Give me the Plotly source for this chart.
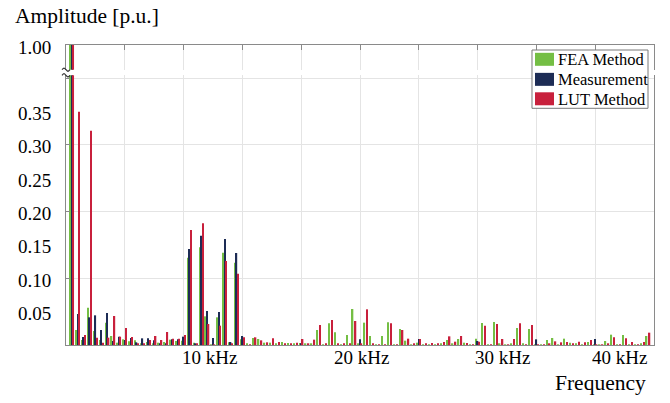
import plotly.graph_objects as go

# Harmonic orders (fundamental = 1) and normalised amplitudes [p.u.]
orders = list(range(1, 100))

fea = [1.0, 0.0225, 0.0075, 0.056, 0.021, 0.0075, 0.0335, 0.0135, 0.0035, 0.0085,
       0.0055, 0.007, 0.002, 0.0045, 0.002, 0.0035, 0.0045, 0.008, 0.006, 0.0065,
       0.131, 0.0035, 0.1465, 0.043, 0.001, 0.0415, 0.1385, 0.004, 0.1235, 0.0085,
       0.0025, 0.0105, 0.009, 0.0035, 0.0035, 0.002, 0.0045, 0.003, 0.0025, 0.003,
       0.0015, 0.0025, 0.0225, 0.001, 0.0325, 0.019, 0.001, 0.015, 0.054, 0.002,
       0.0335, 0.0135, 0.001, 0.0135, 0.034, 0.001, 0.024, 0.0065, 0.001, 0.0035,
       0.001, 0.0005, 0.001, 0.002, 0.0075, 0.002, 0.009, 0.0035, 0.0005, 0.0095,
       0.033, 0.0005, 0.0345, 0.0015, 0.0005, 0.0015, 0.0255, 0.0015, 0.024, 0.001,
       0.0005, 0.0075, 0.0105, 0.001, 0.0095, 0.0035, 0.0025, 0.001, 0.0045, 0.001,
       0.0005, 0.006, 0.0155, 0.0005, 0.015, 0.001, 0.0005, 0.002, 0.0135]

measurement = [1.0, 0.0465, 0.012, 0.0415, 0.0445, 0.0225, 0.048, 0.006, 0.0125, 0.0075,
               0.0105, 0.004, 0.01, 0.01, 0.007, 0.002, 0.002, 0.0085, 0.0085, 0.0125,
               0.144, 0.0015, 0.164, 0.051, 0.0105, 0.0495, 0.159, 0.0045, 0.138, 0.0135,
               0, 0, 0, 0, 0, 0, 0, 0, 0, 0.002,
               0, 0, 0, 0, 0, 0, 0, 0, 0, 0.0085,
               0, 0, 0, 0, 0, 0, 0, 0, 0, 0.009,
               0, 0, 0, 0, 0, 0, 0, 0, 0, 0.006,
               0, 0, 0, 0, 0, 0, 0, 0, 0, 0.0085,
               0, 0, 0, 0, 0, 0, 0, 0, 0, 0.009,
               0, 0, 0, 0, 0, 0, 0, 0, 0]

lut = [1.0, 0.35, 0.015, 0.3215, 0.011, 0.0035, 0.011, 0.0435, 0.0125, 0.0255,
       0.012, 0.0025, 0.002, 0.0075, 0.0135, 0.0075, 0.0195, 0.0095, 0.0095, 0.015,
       0.1725, 0.0025, 0.1825, 0.0315, 0.001, 0.029, 0.126, 0.0015, 0.107, 0.0115,
       0.001, 0.0115, 0.007, 0.004, 0.01, 0.0045, 0.0025, 0.0025, 0.0035, 0.009,
       0.0025, 0.008, 0.03, 0.0025, 0.0375, 0.0025, 0.0015, 0.002, 0.036, 0.0025,
       0.0535, 0.0015, 0.0005, 0.001, 0.0325, 0.0005, 0.0225, 0.0095, 0.0025, 0.009,
       0.0015, 0.003, 0.0025, 0.0045, 0.013, 0.005, 0.0135, 0.003, 0.0005, 0.005,
       0.029, 0.0005, 0.0315, 0.009, 0.0005, 0.009, 0.0325, 0.0005, 0.03, 0.001,
       0.0005, 0.0025, 0.0055, 0.004, 0.0045, 0.0025, 0.005, 0.004, 0.0075, 0.001,
       0.0005, 0.002, 0.0115, 0.0005, 0.01, 0.0045, 0.0005, 0.0045, 0.0185]

series_names = ["FEA Method", "Measurement", "LUT Method"]
series_colors = ["#74be44", "#1d2c55", "#c8203c"]

# Frequency labels (placed at harmonic orders) and amplitude tick labels
freq_labels = ["10 kHz", "20 kHz", "30 kHz", "40 kHz"]
freq_label_orders = [24.4, 50.3, 74.2, 94.2]
amp_ticks = [0.05, 0.10, 0.15, 0.20, 0.25, 0.30, 0.35]
amp_top_tick = 1.00

FONT = "Liberation Serif"
AXIS_COLOR = "#8a8a8a"
GRID_COLOR = "#e4e4e4"

fig = go.Figure()

for name, color, vals in zip(series_names, series_colors, [fea, measurement, lut]):
    # lower (0 ... 0.4) segment of the broken axis
    fig.add_trace(go.Bar(x=orders, y=vals, name=name, marker_color=color,
                         marker_line_width=0, xaxis="x", yaxis="y",
                         showlegend=False))
    # upper segment around 1.0
    fig.add_trace(go.Bar(x=orders, y=vals, name=name, marker_color=color,
                         marker_line_width=0, xaxis="x2", yaxis="y2",
                         showlegend=False))

lower_top = 0.899
upper_bottom = 0.9177

fig.update_layout(
    width=670, height=403,
    margin=dict(l=66, r=16, t=45, b=58),
    paper_bgcolor="white", plot_bgcolor="white",
    barmode="group", bargap=0.25, bargroupgap=0.08,
    font=dict(family=FONT, color="black"),
    showlegend=False,
    xaxis=dict(domain=[0, 1], range=[0, 100], anchor="y",
               dtick=10, tick0=0, showticklabels=False, ticks="",
               showgrid=True, gridcolor=GRID_COLOR, gridwidth=1,
               showline=True, linecolor=AXIS_COLOR, linewidth=1.3,
               mirror=False, zeroline=False),
    xaxis2=dict(domain=[0, 1], range=[0, 100], anchor="y2", matches="x",
                side="top", dtick=10, tick0=0, showticklabels=False,
                ticks="inside", ticklen=5, tickcolor=AXIS_COLOR,
                showgrid=True, gridcolor=GRID_COLOR, gridwidth=1,
                showline=True, linecolor=AXIS_COLOR, linewidth=1.3,
                mirror=False, zeroline=False),
    yaxis=dict(domain=[0, lower_top], range=[0, 0.4045], anchor="x",
               dtick=0.1, tick0=0, showticklabels=False,
               ticks="inside", ticklen=4, tickcolor=AXIS_COLOR,
               showgrid=True, gridcolor=GRID_COLOR, gridwidth=1,
               showline=True, linecolor=AXIS_COLOR, linewidth=1.3,
               mirror=True, zeroline=False),
    yaxis2=dict(domain=[upper_bottom, 1], range=[0.95, 1.0], anchor="x2",
                showticklabels=False, ticks="", showgrid=False,
                showline=True, linecolor=AXIS_COLOR, linewidth=1.3,
                mirror=True, zeroline=False),
)

annotations = []
# amplitude tick labels
for v in amp_ticks:
    annotations.append(dict(x=-0.0213, xref="paper", y=v, yref="y",
                            text=f"{v:.2f}", showarrow=False,
                            xanchor="right", yanchor="middle", yshift=-2,
                            font=dict(family=FONT, size=19)))
annotations.append(dict(x=-0.0213, xref="paper", y=amp_top_tick, yref="y2",
                        text=f"{amp_top_tick:.2f}", showarrow=False,
                        xanchor="right", yanchor="middle", yshift=-2,
                        font=dict(family=FONT, size=19)))
# frequency labels
for lab, pos in zip(freq_labels, freq_label_orders):
    annotations.append(dict(x=pos, xref="x", y=-0.0433, yref="paper",
                            text=lab, showarrow=False,
                            xanchor="center", yanchor="middle",
                            font=dict(family=FONT, size=19)))
# axis titles
annotations.append(dict(x=-0.0901, xref="paper", y=1.0967, yref="paper",
                        text="Amplitude [p.u.]", showarrow=False,
                        xanchor="left", yanchor="middle",
                        font=dict(family=FONT, size=21.5)))
annotations.append(dict(x=0.9898, xref="paper", y=-0.1267, yref="paper",
                        text="Frequency", showarrow=False,
                        xanchor="right", yanchor="middle",
                        font=dict(family=FONT, size=21.5)))

shapes = []

# legend: framed box with wide colour swatches
leg_x0, leg_x1 = 0.7925, 0.9898
leg_y0, leg_y1 = 0.789, 0.9833
sw_x0, sw_x1 = 0.7976, 0.8299
sw_h = 0.0433
row_centres = [0.9523, 0.8855, 0.8207]
shapes.append(dict(type="rect", xref="paper", yref="paper",
                   x0=leg_x0, x1=leg_x1, y0=leg_y0, y1=leg_y1,
                   fillcolor="white", line=dict(color="#7a7a7a", width=1),
                   layer="above"))
for name, color, yc in zip(series_names, series_colors, row_centres):
    shapes.append(dict(type="rect", xref="paper", yref="paper",
                       x0=sw_x0, x1=sw_x1, y0=yc - sw_h / 2, y1=yc + sw_h / 2,
                       fillcolor=color, line=dict(width=0), layer="above"))
    annotations.append(dict(x=0.8333, xref="paper", y=yc, yref="paper",
                            text=name, showarrow=False,
                            xanchor="left", yanchor="middle", yshift=-0.5,
                            font=dict(family=FONT, size=16.5)))

# axis-break squiggles on the left spine
dx = 4 / 588
dy = 2.2 / 300
for yb in (upper_bottom, lower_top):
    path = (f"M {-dx},{yb} C {-dx/2},{yb + dy} {-dx/2},{yb + dy} 0,{yb} "
            f"S {dx/2},{yb - dy} {dx},{yb}")
    shapes.append(dict(type="path", path=path, xref="paper", yref="paper",
                       line=dict(color="#333333", width=1.2)))

fig.update_layout(annotations=annotations, shapes=shapes)

fig.write_html("out.html")
